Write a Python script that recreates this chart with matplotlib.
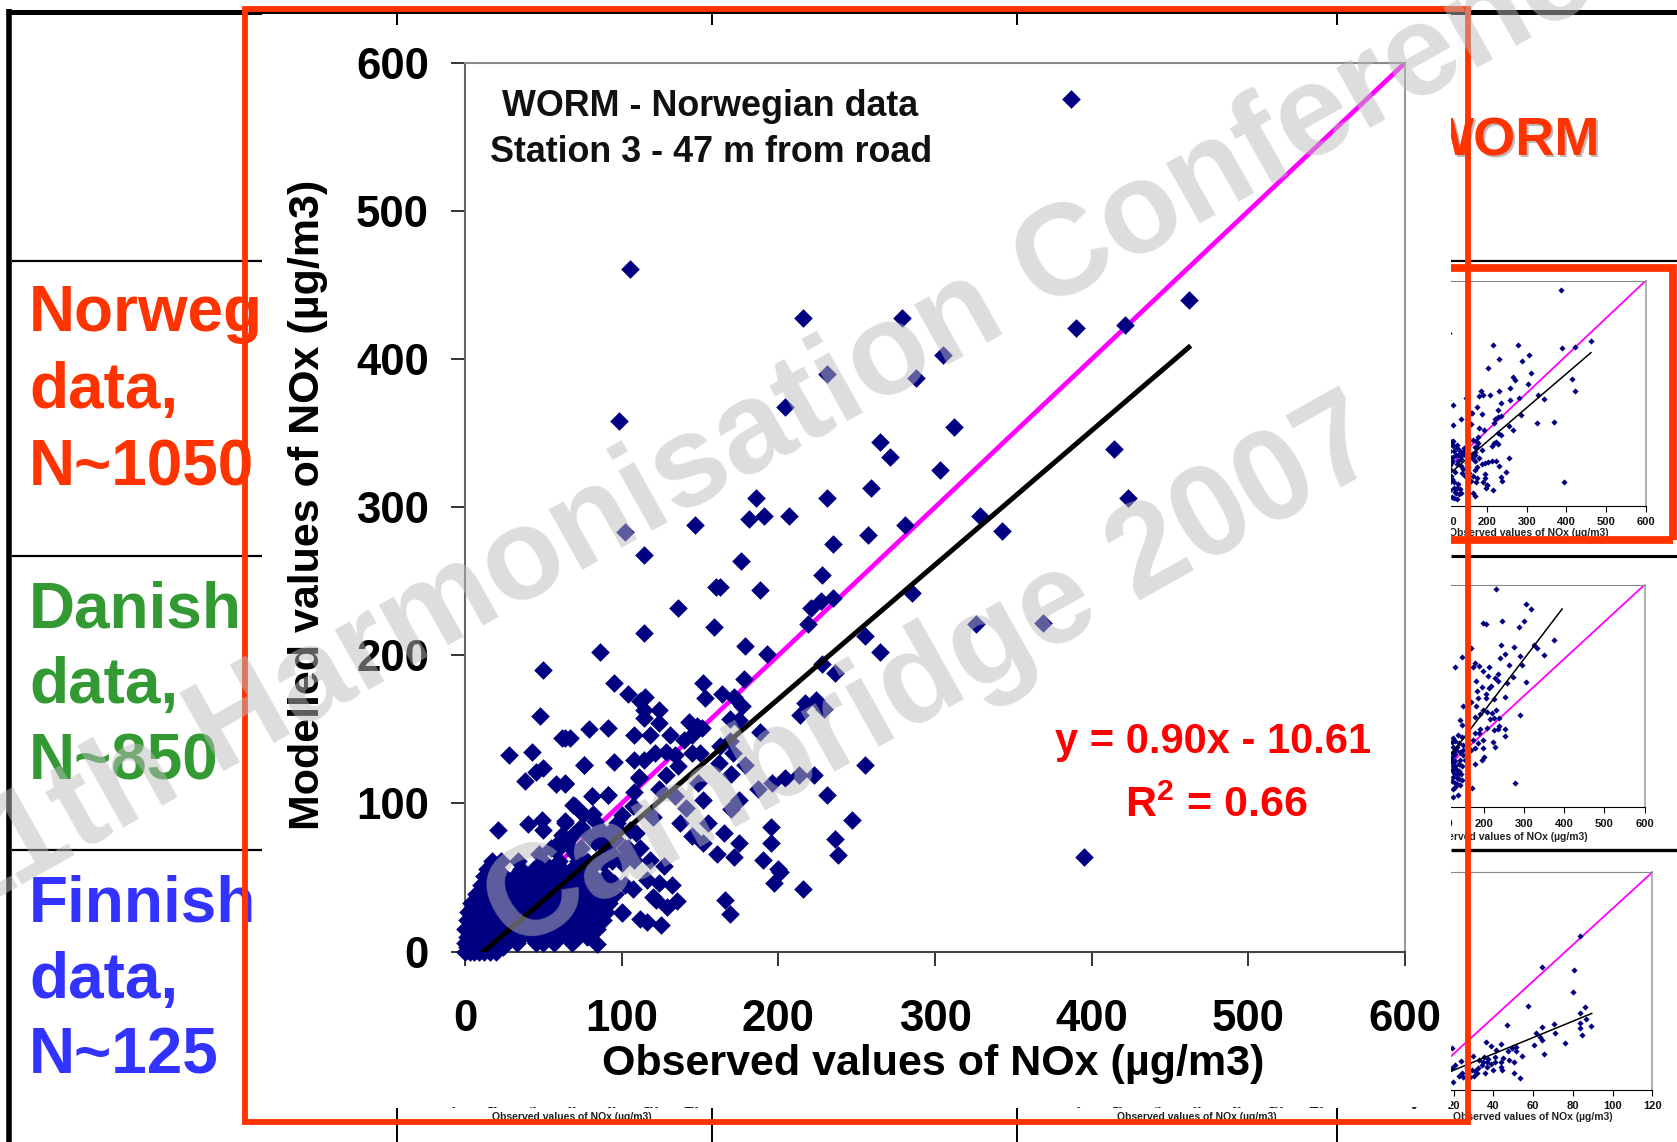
#!/usr/bin/env python3
# coding: utf-8
"""Slide with WORM scatter plot of modelled vs observed NOx, Norwegian data enlarged."""
import matplotlib
matplotlib.use('AGG')
import matplotlib.pyplot as plt
from matplotlib.patches import Rectangle

plt.rcParams['font.family'] = ['Liberation Sans', 'DejaVu Sans']
plt.rcParams['font.weight'] = 'bold'
plt.rcParams['axes.labelweight'] = 'bold'
plt.rcParams['mathtext.fontset'] = 'custom'
plt.rcParams['mathtext.bf'] = 'Liberation Sans:bold'
plt.rcParams['mathtext.rm'] = 'Liberation Sans:bold'

W, H = 1677, 1142
NAVY = '#000080'
ORANGE = '#FF3300'

# Norwegian station, points that can be told apart
nor_x = [105, 216, 231, 204, 98, 265, 259, 231, 186, 181, 191, 207, 147, 102, 114, 257, 235, 176,
         228, 160, 163, 188, 136, 235, 227, 221, 219, 159, 114, 179, 193, 86, 255, 265, 228,
         279, 462, 390, 421, 305, 288, 312, 271, 303, 414, 423, 281, 329, 343, 285, 326, 369, 387, 395,
         236, 95, 104, 115, 112, 114, 124, 114, 124, 152, 153, 164, 172, 177, 178, 169, 175, 188,
         217, 224, 229, 214, 143, 148, 151, 145, 140, 131, 118, 108, 91, 79, 62, 67, 76, 95, 108,
         114, 121, 128, 134, 145, 150, 163, 169, 162, 171, 179, 170, 136, 128, 111, 108, 124, 149,
         64, 91, 81, 70, 75, 82, 107, 64, 69, 86, 97, 109, 134, 141, 152, 137, 145, 155, 152, 161,
         165, 170, 175, 175, 172, 190, 195, 195, 200, 236, 238, 247, 231, 255, 223, 213, 204, 196, 187,
         50, 48, 64, 28, 43, 76, 50, 45, 38, 58, 64, 111, 81, 91, 69, 75, 49, 40, 50, 21, 64, 62, 69,
         61, 83, 96, 105, 120, 201, 197, 216, 166, 169, 132, 135, 129, 122, 100, 112, 116, 125, 84,
         103, 116, 124, 120, 107, 95,
         58, 66, 74, 83, 90, 70, 96, 102, 100, 108, 55, 47, 79, 88, 100, 112, 118, 127, 104, 96, 88, 74]
nor_y = [461, 428, 390, 368, 358, 344, 313, 306, 306, 292, 294, 294, 288, 283, 268, 281, 275, 264,
         254, 246, 246, 244, 232, 239, 237, 232, 221, 219, 215, 206, 201, 202, 213, 202, 194,
         428, 440, 421, 423, 403, 387, 354, 334, 325, 339, 306, 288, 294, 284, 242, 221, 222, 576, 64,
         188, 181, 174, 172, 169, 163, 163, 158, 154, 181, 171, 174, 172, 166, 184, 157, 156, 148,
         168, 170, 164, 160, 155, 152, 151, 146, 143, 146, 146, 146, 151, 150, 144, 144, 126, 128, 129,
         129, 134, 135, 133, 134, 134, 139, 142, 127, 134, 126, 120, 125, 119, 118, 108, 110, 114,
         114, 106, 105, 98, 93, 93, 98, 87, 79, 83, 87, 80, 105, 97, 102, 87, 78, 87, 73, 66,
         80, 96, 102, 73, 64, 62, 84, 73, 56, 76, 65, 89, 106, 126, 119, 119, 117, 114, 110,
         190, 159, 144, 133, 135, 126, 124, 121, 115, 113, 113, 117, 105, 106, 99, 93, 89, 86, 82, 82, 88, 79, 79,
         75, 88, 84, 82, 91, 54, 46, 42, 35, 25, 45, 34, 30, 35, 26, 22, 20, 18, 5,
         64, 48, 46, 37, 42, 46,
         68, 72, 70, 74, 70, 66, 76, 70, 60, 62, 70, 66, 78, 80, 92, 70, 62, 58, 70, 64, 60, 84]

# Norwegian station, dense part near the origin: observed values per modelled level
nor_dense_y = [0, 3, 6, 10, 15, 21, 27, 33, 39, 45, 51, 56, 61]
nor_dense_x = [
    [0, 3, 6, 9, 12, 16, 20],
    [1, 5, 10, 14, 18, 24],
    [0, 4, 8, 13, 19, 25, 33, 45, 50, 57, 68],
    [1, 6, 12, 18, 24, 30, 36, 42, 48, 54, 60, 66, 72, 78],
    [0, 5, 11, 17, 23, 29, 35, 41, 47, 53, 59, 65, 71, 77, 84],
    [1, 7, 13, 19, 26, 32, 38, 44, 50, 56, 62, 68, 74, 80, 88],
    [2, 8, 14, 20, 27, 33, 39, 45, 51, 57, 63, 69, 75, 82, 90, 100],
    [4, 10, 16, 22, 28, 35, 41, 47, 53, 60, 66, 72, 78, 85, 92],
    [7, 13, 19, 25, 31, 38, 44, 50, 56, 63, 69, 75, 81, 88, 96],
    [10, 16, 22, 28, 35, 42, 48, 54, 60, 66, 72, 78, 85, 92, 102],
    [12, 18, 25, 32, 40, 46, 52, 58, 64, 70, 76, 82, 90],
    [14, 20, 36, 44, 50, 56, 62, 68, 74, 80],
    [17, 23, 34, 50, 60, 72, 78, 86, 94],
]

# Danish station
dan_x = [232, 305, 318, 199, 206, 247, 300, 288, 375, 325, 333, 244, 276, 241, 254, 291, 349, 147, 129,
         168, 173, 178, 189, 213, 262, 296, 199, 211, 237, 229, 236, 272, 182, 257, 305, 218, 213, 195,
         184, 206, 206, 185, 253, 226, 170, 150, 181, 199, 208, 232, 222, 290, 191, 179, 216, 227, 238,
         141, 146, 209, 239, 254, 253, 191, 179, 189, 226, 235, 224, 228, 199, 198, 175, 187, 179, 170,
         201, 195, 179, 278, 172, 136, 125, 129, 125, 137, 146, 125, 141, 129, 137, 125, 146, 133, 150,
         125, 125, 154, 121, 133,
         122, 130, 140, 148, 124, 132, 142, 150, 120, 128, 138, 146, 122, 131, 140, 126, 134, 144, 122, 130,
         138, 124, 133, 142, 122, 128]
dan_y = [588, 547, 535, 498, 495, 503, 502, 486, 451, 438, 429, 437, 431, 403, 412, 408, 410, 405, 379,
         429, 379, 388, 381, 379, 384, 384, 367, 354, 358, 349, 341, 350, 341, 334, 338, 327, 321, 325,
         313, 305, 295, 295, 296, 292, 285, 274, 273, 262, 258, 261, 253, 250, 252, 244, 237, 240, 240,
         235, 222, 215, 220, 211, 193, 211, 199, 199, 208, 210, 176, 162, 181, 161, 181, 172, 159, 155,
         135, 128, 118, 66, 52, 33, 28, 56, 186, 195, 190, 137, 128, 110, 92, 83, 74, 163, 155,
         163, 110, 128, 123, 78,
         175, 180, 172, 168, 150, 155, 148, 140, 130, 125, 118, 112, 100, 104, 98, 92, 86, 90, 70, 66,
         76, 48, 62, 60, 122, 145]

# Finnish station
fin_x = [83.8, 64.6, 80.8, 79.9, 57.6, 86.1, 83.4, 86.6, 46.8, 70.5, 64.6, 83.4, 83.8, 89.2, 70.9, 61.5,
         63.5, 64.3, 84.5, 76.1, 60.6, 36.3, 38.6, 44.0, 41.3, 47.2, 49.5, 51.5, 51.5, 65.5, 54.6, 29.6,
         19.0, 35.3, 37.4, 40.8, 44.7, 47.7, 50.5, 32.9, 34.9, 36.9, 40.8, 43.7, 23.7, 34.1, 36.9, 38.6,
         43.7, 44.2, 40.0, 32.4, 30.7, 31.6, 35.8, 50.5, 53.6, 19.8, 20.7, 19.0, 24.0, 22.8, 24.9, 27.4,
         29.0, 26.5, 30.2, 28.2]
fin_y = [84.9, 67.8, 66.4, 54.2, 46.3, 45.6, 42.5, 39.0, 35.9, 36.6, 34.6, 36.8, 34.4, 35.3, 31.3, 31.3,
         29.4, 27.6, 30.4, 25.9, 24.8, 26.7, 24.1, 25.2, 22.3, 21.5, 23.4, 23.6, 21.5, 19.7, 18.6, 19.0,
         23.0, 18.0, 17.1, 18.4, 17.5, 16.6, 15.7, 16.6, 15.7, 15.3, 15.3, 15.3, 16.0, 13.8, 12.5, 14.4,
         12.5, 11.1, 11.1, 12.0, 10.2, 9.2, 9.2, 9.6, 6.5, 4.6, 13.8, 12.0, 9.2, 7.8, 7.4, 9.2,
         11.1, 12.0, 7.8, 7.4]

# Regression line ends
nor_fit_x, nor_fit_y = [12, 462], [0, 408]
dan_fit_x, dan_fit_y = [19.3, 395], [0, 534.5]
fin_fit_x, fin_fit_y = [0, 89.5], [1.91, 42.2]

ticks_600 = [0, 100, 200, 300, 400, 500, 600]
ticks_120 = [0, 20, 40, 60, 80, 100, 120]
xlabel = 'Observed values of NOx (µg/m3)'
ylabel = 'Modelled values of NOx (µg/m3)'

all_nor_x = list(nor_x)
all_nor_y = list(nor_y)
for level, row in zip(nor_dense_y, nor_dense_x):
    all_nor_x += row
    all_nor_y += [level] * len(row)


def pixel_axes(zorder):
    """Full figure axes in picture pixels, y going down."""
    ax = fig.add_axes([0, 0, 1, 1], zorder=zorder)
    ax.set_xlim(0, W)
    ax.set_ylim(H, 0)
    ax.axis('off')
    ax.patch.set_alpha(0)
    return ax


def data_axes(left, right, top, bottom, zorder):
    return fig.add_axes([left / W, 1 - bottom / H, (right - left) / W, (bottom - top) / H], zorder=zorder)


def draw_thumb(box, lim, ticks, xs, ys, fit_x, fit_y, title, eq, r2, label_y, label_right, tick_y):
    left, right, top, bottom = box
    ax = data_axes(left, right, top, bottom, 1)
    ax.set_xlim(0, lim)
    ax.set_ylim(0, lim)
    ax.plot([0, lim], [0, lim], color='#FF00FF', lw=1.3, zorder=2)
    ax.scatter(xs, ys, marker='D', s=10, color=NAVY, linewidths=0, zorder=3)
    ax.plot(fit_x, fit_y, color='black', lw=1.1, zorder=4)
    ax.set_xticks(ticks)
    ax.set_yticks([])
    ax.set_xticklabels([])
    ax.tick_params(axis='x', length=4, width=0.8)
    ax.spines['top'].set_color('#888888')
    ax.spines['right'].set_color('#AAAAAA')
    ax.spines['right'].set_linewidth(1.3)
    # labels placed in picture pixels, the white panel hides what runs off to the left
    for t in ticks:
        px = left + (right - left) * t / lim
        under.text(px, tick_y, str(t), fontsize=8, ha='center', va='center', color='#111111', zorder=6)
    under.text(label_right, label_y, xlabel, fontsize=7.5, ha='right', va='center', color='#222222', zorder=6)
    for text, end, y in title:
        under.text(end, y, text, fontsize=6.8, ha='right', va='center', color='#222222', zorder=6)
    for text, cx, y in (eq, r2):
        under.text(cx, y, text, fontsize=7.6, color='red', ha='center', va='center', zorder=6)


fig = plt.figure(figsize=(W / 100, H / 100), dpi=100, facecolor='white')

# Slide behind the enlarged chart
under = pixel_axes(0)
under.plot([9, 9], [9, H], color='black', lw=4, solid_capstyle='butt')
under.plot([6, W], [11.5, 11.5], color='black', lw=3.6, solid_capstyle='butt')
for y, lw in [(261, 1.6), (556, 2.2), (850, 2.4)]:
    under.plot([12, 262], [y, y], color='black', lw=1.6, solid_capstyle='butt')
    under.plot([1451, W], [y, y], color='black', lw=lw, solid_capstyle='butt')
for x in [397, 712, 1017, 1337]:
    under.plot([x, x], [1108, H], color='black', lw=1.4, solid_capstyle='butt')

for lines, colour, ys in [
    (['Norwegian', 'data,', 'N~1050'], ORANGE, [314, 391, 468]),
    (['Danish', 'data,', 'N~850'], '#339933', [610, 686, 763]),
    (['Finnish', 'data,', 'N~125'], '#3333FF', [904, 981, 1057]),
]:
    for line, y in zip(lines, ys):
        under.text(29, y, line, color=colour, fontsize=46, ha='left', va='center')

under.text(1425, 144, 'WORM', color='#BBBBBB', fontsize=39, ha='left', va='center')
under.text(1423, 142, 'WORM', color=ORANGE, fontsize=39, ha='left', va='center')

# Bits of the small charts showing under the enlarged one
for start in [453, 1078]:
    for i, t in enumerate(ticks_120):
        under.text(start + 39.7 * i, 1105, str(t), fontsize=7, ha='center', va='center', color='#222222')
under.text(1414, 1105, '0', fontsize=7, ha='center', va='center', color='#222222')
under.text(572, 1117, xlabel, fontsize=7.5, ha='center', va='center', color='#222222')
under.text(1197, 1117, xlabel, fontsize=7.5, ha='center', va='center', color='#222222')

draw_thumb((1407.5, 1645.7, 280.7, 505.7), 600, ticks_600, all_nor_x, all_nor_y, nor_fit_x, nor_fit_y,
           [('WORM - Norwegian data', 1522, 291), ('Station 3 - 47 m from road', 1526, 303)],
           ('y = 0.90x - 10.61', 1597, 452), (r'$\mathbf{R^2}$ = 0.66', 1597, 469), 533, 1609, 522)
draw_thumb((1403, 1644.7, 584.7, 807.3), 600, ticks_600, dan_x, dan_y, dan_fit_x, dan_fit_y,
           [('WORM - Danish data', 1504, 596), ('Station 1 - 53 m from road', 1516, 608)],
           ('y = 1.42x - 27.36', 1603, 779), (r'$\mathbf{R^2}$ = 0.70', 1603, 796), 837, 1588, 824)
draw_thumb((1414, 1652.3, 872.3, 1090), 120, ticks_120, fin_x, fin_y, fin_fit_x, fin_fit_y,
           [('WORM - Finnish data', 1527, 898), ('Station 2 - 34 m from road', 1543, 909)],
           ('y = 0.45x + 1.91', 1609, 1059), (r'$\mathbf{R^2}$ = 0.51', 1609, 1074), 1117, 1613, 1106)

# White panel carrying the enlarged chart
cover = pixel_axes(2)
cover.add_patch(Rectangle((262, 14), 1451 - 262, 1107 - 14, facecolor='white', edgecolor='none'))

# Enlarged chart
ax = data_axes(465, 1405, 63, 951.5, 3)
ax.set_xlim(0, 600)
ax.set_ylim(0, 600)
ax.plot([0, 600], [0, 600], color='#FF00FF', lw=3.4, zorder=2)
ax.scatter(all_nor_x, all_nor_y, marker='D', s=90, color=NAVY, linewidths=0, zorder=3, clip_on=False)
ax.plot(nor_fit_x, nor_fit_y, color='black', lw=3.6, zorder=4)
ax.set_xticks(ticks_600)
ax.set_yticks(ticks_600)
ax.tick_params(axis='x', length=10, width=1.4, labelsize=31.5, color='#333333', pad=24)
ax.tick_params(axis='y', length=10, width=1.4, labelsize=31.5, color='#333333', pad=16)
for side, colour in [('top', '#888888'), ('right', '#999999'), ('left', '#666666'), ('bottom', '#444444')]:
    ax.spines[side].set_color(colour)
    ax.spines[side].set_linewidth(1.5)
ax.set_xlabel(xlabel, fontsize=31)
ax.set_ylabel(ylabel, fontsize=31)
ax.xaxis.set_label_coords((933 - 465) / 940, (951.5 - 1064) / 888.5)
ax.yaxis.set_label_coords((308 - 465) / 940, (951.5 - 505) / 888.5)
ax.xaxis.label.set_va('center')
ax.yaxis.label.set_va('center')

top = pixel_axes(4)
top.text(710, 106, 'WORM - Norwegian data', fontsize=25.8, ha='center', va='center', color='#111111')
top.text(711, 153, 'Station 3 - 47 m from road', fontsize=25.8, ha='center', va='center', color='#111111')
top.text(1213, 742, 'y = 0.90x - 10.61', fontsize=30, color='red', ha='center', va='center')
top.text(1216, 806, r'$\mathbf{R^2}$ = 0.66', fontsize=31, color='red', ha='center', va='center')

for x in [397, 712, 1017, 1337]:
    top.plot([x, x], [14, 25], color='black', lw=1.4, solid_capstyle='butt')

# Orange highlight boxes
top.add_patch(Rectangle((245.5, 9), 1468 - 245.5, 1121.5 - 9, fill=False, edgecolor=ORANGE, lw=4.2))
top.plot([1451, 1673, 1673], [268, 268, 539.5], color=ORANGE, lw=5.6, solid_joinstyle='miter',
         solid_capstyle='butt')
top.plot([1451, 1673], [539.5, 539.5], color=ORANGE, lw=5.6, solid_capstyle='butt')

# Watermark
top.text(795, 412, '11th Harmonisation Conference', fontsize=93.5, color='#BCBCBC', alpha=0.5,
         rotation=29.3, rotation_mode='anchor', ha='center', va='center', clip_on=True)
top.text(934, 678, 'Cambridge 2007', fontsize=93.5, color='#BCBCBC', alpha=0.5,
         rotation=29.3, rotation_mode='anchor', ha='center', va='center', clip_on=True)

fig.savefig('out.png', dpi=100)
